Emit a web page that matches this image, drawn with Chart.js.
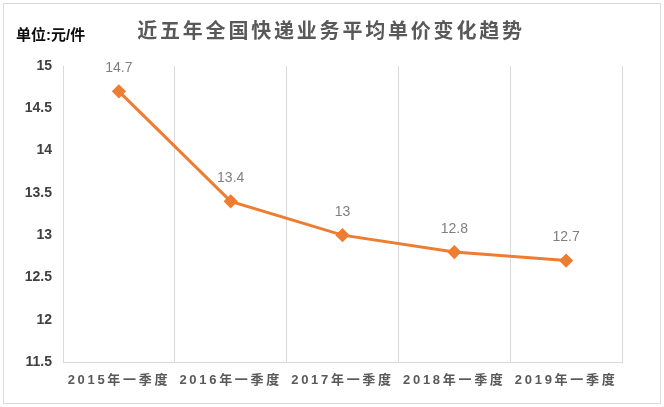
<!DOCTYPE html>
<html>
<head>
<meta charset="utf-8">
<script src="https://cdn.jsdelivr.net/npm/chart.js@4"></script>
<style>
  html, body { margin: 0; padding: 0; background: #fff; }
  #wrap { width: 664px; height: 407px; position: relative; }
</style>
</head>
<body>
<div id="wrap"><canvas id="priceChart" width="664" height="407"></canvas></div>
<script>
const chartTitle = '近五年全国快递业务平均单价变化趋势';
const unitLabel = '单位:元/件';
const quarters = ['2015年一季度', '2016年一季度', '2017年一季度', '2018年一季度', '2019年一季度'];
const avgPrice = [14.7, 13.4, 13, 12.8, 12.7];
const yMin = 11.5;
const yMax = 15;
const yStep = 0.5;

const FONT = '"Liberation Sans", "Noto Sans CJK SC", sans-serif';
const ORANGE = '#ED7D31';
const GRID = '#d9d9d9';

// frame, title, unit and point labels
const decorPlugin = {
    id: 'decor',
    beforeDraw(chart) {
        const c = chart.ctx;
        c.save();
        c.fillStyle = '#fff';
        c.fillRect(0, 0, chart.width, chart.height);
        c.strokeStyle = GRID;
        c.lineWidth = 1;
        c.strokeRect(3.5, 3.5, chart.width - 7, chart.height - 7);
        c.restore();

        // wrap x labels once so they get the wide spacing
        const xs = chart.scales.x;
        if (!xs._spaced) {
            const orig = xs.drawLabels.bind(xs);
            xs.drawLabels = function (area) {
                chart.ctx.save();
                chart.ctx.letterSpacing = '2.7px';
                orig(area);
                chart.ctx.restore();
            };
            xs._spaced = true;
        }
    },
    afterDraw(chart) {
        const c = chart.ctx;
        c.save();
        c.textBaseline = 'middle';

        c.fillStyle = '#595959';
        c.font = 'bold 20px ' + FONT;
        c.letterSpacing = '2.8px';
        c.textAlign = 'center';
        c.fillText(chartTitle, 331, 32);

        c.fillStyle = '#0d0d0d';
        c.font = 'bold 15px ' + FONT;
        c.letterSpacing = '0px';
        c.textAlign = 'left';
        c.fillText(unitLabel, 16, 36);

        c.fillStyle = '#7f7f7f';
        c.font = '14px ' + FONT;
        c.textAlign = 'center';
        const meta = chart.getDatasetMeta(0);
        meta.data.forEach((pt, i) => {
            c.fillText(String(avgPrice[i]), pt.x, pt.y - 23);
        });
        c.restore();
    }
};

const ctx = document.getElementById('priceChart').getContext('2d');
new Chart(ctx, {
    type: 'line',
    data: {
        labels: quarters,
        datasets: [{
            data: avgPrice,
            borderColor: ORANGE,
            backgroundColor: ORANGE,
            borderWidth: 3,
            pointStyle: 'rectRot',
            pointRadius: 5,
            pointHoverRadius: 5,
            tension: 0
        }]
    },
    options: {
        responsive: false,
        animation: false,
        layout: { padding: { top: 66, left: 10, right: 42, bottom: 10 } },
        plugins: {
            legend: { display: false },
            title: { display: false },
            tooltip: { enabled: false }
        },
        scales: {
            x: {
                offset: true,
                grid: { offset: true, color: GRID, drawTicks: false },
                border: { color: GRID },
                ticks: {
                    padding: 11,
                    color: '#595959',
                    font: { family: FONT, size: 13, weight: 'bold' },
                    maxRotation: 0
                },
                afterFit(s) { s.height = 35; }
            },
            y: {
                min: yMin,
                max: yMax,
                grid: { display: false, drawTicks: false },
                border: { display: false },
                ticks: {
                    stepSize: yStep,
                    padding: 11,
                    color: '#404040',
                    font: { family: FONT, size: 14, weight: 'bold' },
                    callback: v => String(Math.round(v * 10) / 10)
                },
                afterFit(s) { s.width = 53; }
            }
        }
    },
    plugins: [decorPlugin]
});
</script>
</body>
</html>
